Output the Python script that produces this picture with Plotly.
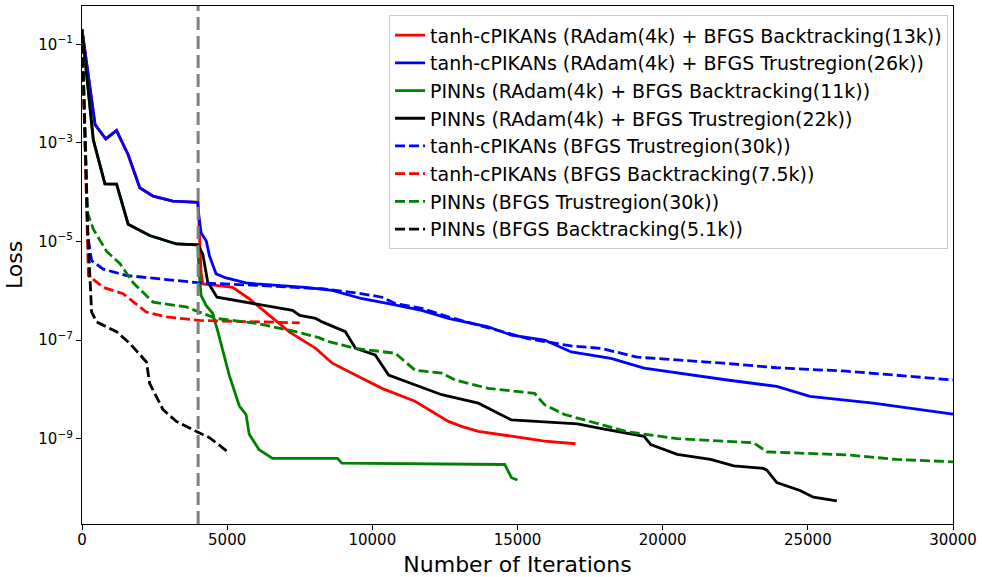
import plotly.graph_objects as go

# ---------------- data ----------------
# tanh-cPIKANs (RAdam(4k) + BFGS Trustregion(26k))  -- blue solid
it_kan_tr = [0, 450, 820, 1190, 1590, 1990, 2450, 3130, 3990, 4020, 4100, 4280, 4390, 4620, 4960,
             5650, 6000, 7700, 8620, 9650, 10560, 11700, 12620, 13990, 14790, 15930, 16850, 18220,
             19360, 20500, 22220, 23930, 25070, 27250, 28850, 30000]
loss_kan_tr = [0.2, 2.34e-3, 1.2e-3, 1.78e-3, 5.75e-4, 1.23e-4, 8.3e-5, 6.6e-5, 6.2e-5, 3.55e-5,
               1.51e-5, 1.02e-5, 5.1e-6, 2.2e-6, 1.82e-6, 1.45e-6, 1.38e-6, 1.17e-6, 1.02e-6, 6.9e-7,
               5.5e-7, 4.0e-7, 2.75e-7, 1.86e-7, 1.26e-7, 1.0e-7, 5.75e-8, 4.27e-8, 2.7e-8, 2.14e-8,
               1.55e-8, 1.15e-8, 7.2e-9, 5.25e-9, 3.9e-9, 3.16e-9]

# tanh-cPIKANs (RAdam(4k) + BFGS Backtracking(13k))  -- red solid
it_kan_bt = [0, 450, 820, 1190, 1590, 1990, 2450, 3130, 3990, 4020, 4100, 4160, 4620, 5190, 5760,
             6450, 7130, 8050, 8620, 9420, 10330, 11470, 12620, 13070, 13650, 15130, 15930, 17000]
loss_kan_bt = [0.2, 2.34e-3, 1.2e-3, 1.78e-3, 5.75e-4, 1.23e-4, 8.3e-5, 6.6e-5, 6.2e-5, 3.16e-5,
               2.4e-6, 1.38e-6, 1.29e-6, 1.17e-6, 6.9e-7, 3.16e-7, 1.48e-7, 6.8e-8, 3.4e-8, 1.95e-8,
               1.05e-8, 5.75e-9, 2.24e-9, 1.78e-9, 1.41e-9, 1.05e-9, 8.9e-10, 7.9e-10]

# PINNs (RAdam(4k) + BFGS Trustregion(22k))  -- black solid
it_pinn_tr = [0, 390, 790, 1190, 1590, 2330, 3250, 3990, 4160, 4330, 4650, 5650, 6680, 7250, 7500,
              8050, 8270, 9070, 9420, 10100, 10560, 11470, 12390, 13650, 14790, 17070, 17760, 19360,
              19590, 20500, 21650, 22450, 23470, 23590, 23930, 24730, 25190, 26000]
loss_pinn_tr = [0.2, 1.15e-3, 1.48e-4, 1.45e-4, 2.24e-5, 1.32e-5, 8.9e-6, 8.5e-6, 5.6e-6, 1.51e-6,
                7.4e-7, 5.9e-7, 4.7e-7, 4.0e-7, 3.16e-7, 2.75e-7, 2.34e-7, 1.48e-7, 6.8e-8, 5.0e-8,
                1.95e-8, 1.23e-8, 7.8e-9, 5.25e-9, 2.4e-9, 2.0e-9, 1.66e-9, 1.12e-9, 7.6e-10, 4.8e-10,
                3.8e-10, 2.8e-10, 2.5e-10, 2.3e-10, 1.29e-10, 8.9e-11, 6.5e-11, 5.5e-11]

# PINNs (RAdam(4k) + BFGS Backtracking(11k))  -- green solid
it_pinn_bt = [0, 390, 790, 1190, 1590, 2330, 3250, 3990, 4020, 4100, 4280, 4500, 4680, 4850, 5070,
              5420, 5650, 5760, 6100, 6560, 8800, 8950, 14560, 14790, 15000]
loss_pinn_bt = [0.2, 1.15e-3, 1.48e-4, 1.45e-4, 2.24e-5, 1.32e-5, 8.9e-6, 8.5e-6, 3.16e-6, 8.1e-7,
                5.0e-7, 3.5e-7, 1.48e-7, 5.75e-8, 1.95e-8, 4.6e-9, 3.1e-9, 1.23e-9, 6.0e-10, 4.0e-10,
                4.0e-10, 3.2e-10, 3.0e-10, 1.62e-10, 1.45e-10]

# tanh-cPIKANs (BFGS Trustregion(30k))  -- blue dashed
it_kan_tr_only = [0, 200, 330, 730, 1530, 2670, 4046, 6000, 8270, 9650, 10330, 10790, 11700, 12620,
                  13650, 15360, 16850, 17870, 19130, 20500, 22100, 23930, 26330, 28620, 30000]
loss_kan_tr_only = [0.2, 1.26e-5, 4.1e-6, 2.75e-6, 2.04e-6, 1.74e-6, 1.45e-6, 1.29e-6, 1.1e-6, 8.7e-7,
                    7.4e-7, 5.5e-7, 4.4e-7, 2.95e-7, 2.0e-7, 1.07e-7, 7.6e-8, 6.8e-8, 4.5e-8, 4.0e-8,
                    3.4e-8, 2.75e-8, 2.34e-8, 1.82e-8, 1.55e-8]

# tanh-cPIKANs (BFGS Backtracking(7.5k))  -- red dashed
it_kan_bt_only = [0, 220, 731, 1417, 2217, 2904, 4046, 7500]
loss_kan_bt_only = [0.2, 2.04e-6, 1.17e-6, 8.7e-7, 3.7e-7, 2.95e-7, 2.5e-7, 2.24e-7]

# PINNs (BFGS Trustregion(30k))  -- green dashed
it_pinn_tr_only = [0, 183, 389, 846, 1303, 1760, 2445, 3590, 4046, 4620, 6100, 7360, 8160, 8500, 9420,
                   10790, 11470, 12390, 12850, 13990, 15590, 15930, 16620, 17650, 18790, 20500, 23130,
                   23590, 26330, 28050, 30000]
loss_pinn_tr_only = [0.2, 3.9e-5, 1.78e-5, 6.3e-6, 3.6e-6, 1.45e-6, 5.9e-7, 4.7e-7, 3.7e-7, 2.75e-7,
                     2.14e-7, 1.48e-7, 1.12e-7, 9.3e-8, 6.8e-8, 5.4e-8, 2.45e-8, 2.14e-8, 1.55e-8,
                     1.05e-8, 8.3e-9, 4.9e-9, 3.1e-9, 2.1e-9, 1.38e-9, 1.0e-9, 8.3e-10, 5.4e-10, 4.7e-10,
                     3.8e-10, 3.4e-10]

# PINNs (BFGS Backtracking(5.1k))  -- black dashed
it_pinn_bt_only = [0, 200, 331, 503, 1190, 1650, 2220, 2330, 2790, 3250, 3930, 4390, 5080]
loss_pinn_bt_only = [0.2, 1.6e-5, 3.7e-7, 2.34e-7, 1.48e-7, 8.5e-8, 3.6e-8, 1.32e-8, 3.9e-9, 2.24e-9,
                     1.41e-9, 1.05e-9, 5.1e-10]

radam_switch = 4000
x_ticks = [0, 5000, 10000, 15000, 20000, 25000, 30000]
y_tickvals = [1e-1, 1e-3, 1e-5, 1e-7, 1e-9]
y_ticktext = ["10<sup>\u22121</sup>", "10<sup>\u22123</sup>", "10<sup>\u22125</sup>",
              "10<sup>\u22127</sup>", "10<sup>\u22129</sup>"]

series = [
    ("tanh-cPIKANs (RAdam(4k) + BFGS Backtracking(13k))", it_kan_bt, loss_kan_bt, "#ff0000", "solid"),
    ("tanh-cPIKANs (RAdam(4k) + BFGS Trustregion(26k))", it_kan_tr, loss_kan_tr, "#0000ff", "solid"),
    ("PINNs (RAdam(4k) + BFGS Backtracking(11k))", it_pinn_bt, loss_pinn_bt, "#008000", "solid"),
    ("PINNs (RAdam(4k) + BFGS Trustregion(22k))", it_pinn_tr, loss_pinn_tr, "#000000", "solid"),
    ("tanh-cPIKANs (BFGS Trustregion(30k))", it_kan_tr_only, loss_kan_tr_only, "#0000ff", "dash"),
    ("tanh-cPIKANs (BFGS Backtracking(7.5k))", it_kan_bt_only, loss_kan_bt_only, "#ff0000", "dash"),
    ("PINNs (BFGS Trustregion(30k))", it_pinn_tr_only, loss_pinn_tr_only, "#008000", "dash"),
    ("PINNs (BFGS Backtracking(5.1k))", it_pinn_bt_only, loss_pinn_bt_only, "#000000", "dash"),
]

fig = go.Figure()
for i, (name, xs, ys, col, style) in enumerate(series):
    fig.add_trace(go.Scatter(
        x=xs, y=ys, mode="lines", name=name,
        line=dict(color=col, width=2.8, dash="10px,4px" if style == "dash" else "solid"),
    ))

fig.add_shape(type="line", xref="x", yref="paper", x0=radam_switch, x1=radam_switch, y0=0, y1=1,
              line=dict(color="#808080", width=3, dash="13px,6px"), layer="above")

font_family = "DejaVu Sans"
fig.update_layout(
    width=982, height=577,
    margin=dict(l=82, r=25, t=5, b=50),
    paper_bgcolor="white", plot_bgcolor="white",
    font=dict(family=font_family, color="black", size=15),
    showlegend=True,
    legend=dict(
        x=0.9943, y=0.982, xanchor="right", yanchor="top",
        bgcolor="rgba(255,255,255,0.85)", bordercolor="#cccccc", borderwidth=1,
        font=dict(family=font_family, size=19, color="black"),
        itemwidth=30,
    ),
    xaxis=dict(
        range=[0, 30000], tickvals=x_ticks, ticktext=[str(v) for v in x_ticks],
        showgrid=False, zeroline=False, showline=True, linecolor="black", linewidth=1.2,
        mirror=True, ticks="outside", ticklen=5, tickcolor="black",
        tickfont=dict(size=15), ticklabelstandoff=-3,
        title=dict(text="Number of Iterations", font=dict(size=22), standoff=8),
    ),
    yaxis=dict(
        type="log", range=[-10.73, -0.224], tickvals=y_tickvals, ticktext=y_ticktext,
        showgrid=False, zeroline=False, showline=True, linecolor="black", linewidth=1.2,
        mirror=True, ticks="outside", ticklen=5, tickcolor="black",
        tickfont=dict(size=15),
        title=dict(text="Loss", font=dict(size=22), standoff=9),
    ),
)

fig.write_html("out.html")
